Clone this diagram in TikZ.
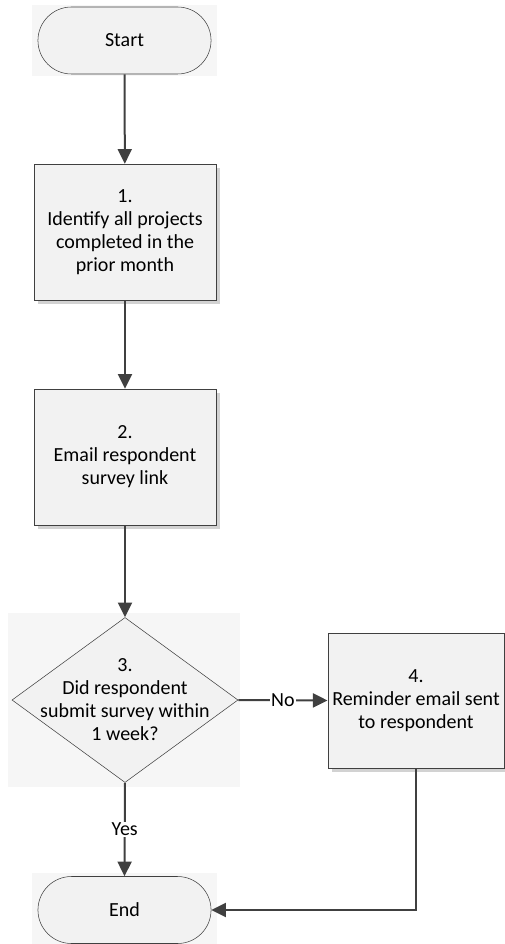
\documentclass[tikz,border=0pt]{standalone}
\usepackage{fontspec}
\setmainfont{Carlito}
\usetikzlibrary{shapes.geometric,shapes.misc,arrows.meta,shadows}
\definecolor{linegray}{HTML}{404040}
\definecolor{boxgray}{HTML}{F2F2F2}
\definecolor{bggray}{HTML}{F6F6F6}
\definecolor{shadowgray}{HTML}{D2D2D2}
\begin{document}
\begin{tikzpicture}[x=0.75pt,y=-0.75pt,
  every node/.style={font=\fontsize{15}{17.25}\selectfont, text=black},
  terminal/.style={rounded rectangle, draw=linegray, fill=boxgray, minimum width=136.5pt, minimum height=50.25pt},
  procbox/.style={rectangle, draw=linegray, fill=boxgray, align=center, minimum width=136.5pt, minimum height=102pt,
    drop shadow={shadow xshift=3pt, shadow yshift=-3pt, fill=shadowgray, opacity=1}},
  decision/.style={diamond, draw=linegray, fill=boxgray, inner sep=0pt, minimum width=169.5pt, minimum height=123.75pt},
  arr/.style={-{Triangle[length=11pt,width=10.5pt]}, line width=1.5pt, draw=linegray},
  edgelabel/.style={fill=white, inner sep=1pt}]
\useasboundingbox (0,0) rectangle (504,944);

\fill[bggray] (32,5) rectangle (217,76);
\fill[bggray] (8,613) rectangle (240,787);
\fill[bggray] (32,873) rectangle (217,944);      %背景

\node[terminal] (start) at (124.5,40.5) {Start};
\node[procbox] (s1) at (125,232) {1.\\Identify all projects\\completed in the\\prior month};
\node[procbox] (s2) at (125,457) {2.\\Email respondent\\survey link};
\node[decision, label={[align=center]center:3.\\Did respondent\\submit survey within\\1 week?}] (q3) at (125,700) {};
\node[procbox, minimum width=130.5pt, minimum height=101.25pt] (s4) at (416,700.5) {4.\\Reminder email sent\\to respondent};
\node[terminal] (end) at (124.5,910) {End};      %流程框

\draw[arr] (start) -- (s1);
\draw[arr] (s1) -- (s2);
\draw[arr] (s2) -- (q3);
\draw[arr] (q3.east) -- node[edgelabel] {No} (s4.west);
\draw[arr] (q3.south) -- node[edgelabel] {Yes} (end.north);
\draw[arr] (s4.south) |- (end.east);      %连线
\end{tikzpicture}
\end{document}
